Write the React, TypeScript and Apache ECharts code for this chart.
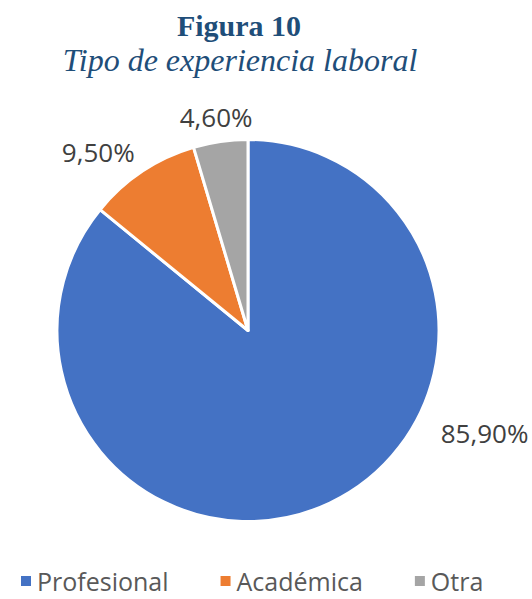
import React, { useEffect, useRef } from "react";
import * as echarts from "echarts";

const categories = ["Profesional", "Académica", "Otra"];
const values = [85.9, 9.5, 4.6];
const valueLabels = ["85,90%", "9,50%", "4,60%"];
const colors = ["#4472C4", "#ED7D31", "#A5A5A5"];

// label placement (angle in degrees, math convention; distance from centre in px)
const labelAngles = [-23.5, 130, 98.5];
const labelDistances = [258, 233, 216];

const CX = 248;
const CY = 330.5;
const R = 191;

export default function App() {
  const ref = useRef<HTMLDivElement>(null);
  useEffect(() => {
    if (!ref.current) return;
    const chart = echarts.init(ref.current, null, { renderer: "svg" });
    chart.setOption({
      animation: false,
      backgroundColor: "#ffffff",
      title: [
        {
          text: "Figura 10",
          left: 234,
          top: 5,
          textAlign: "center",
          textStyle: {
            fontFamily: "Liberation Serif",
            fontWeight: "bold",
            fontSize: 30,
            color: "#1F4E79",
          },
        },
        {
          text: "Tipo de experiencia laboral",
          left: 235,
          top: 39,
          textAlign: "center",
          textStyle: {
            fontFamily: "Liberation Serif",
            fontStyle: "italic",
            fontWeight: "normal",
            fontSize: 32,
            color: "#1F4E79",
          },
        },
      ],
      legend: {
        data: categories,
        left: 14,
        top: 563,
        icon: "rect",
        itemWidth: 12,
        itemHeight: 12,
        itemGap: 50,
        textStyle: {
          fontFamily: "Open Sans",
          fontSize: 25,
          lineHeight: 26,
          color: "#595959",
        },
      },
      series: [
        {
          type: "pie",
          center: [CX, CY],
          radius: R,
          startAngle: 90,
          clockwise: true,
          avoidLabelOverlap: false,
          itemStyle: { borderColor: "#ffffff", borderWidth: 3 },
          label: {
            show: true,
            position: "outside",
            formatter: (p: any) => valueLabels[p.dataIndex],
            fontFamily: "Open Sans",
            fontSize: 26,
            color: "#404040",
          },
          labelLine: { show: false },
          labelLayout: (p: any) => {
            const i = p.dataIndex;
            const a = (labelAngles[i] * Math.PI) / 180;
            return {
              x: CX + Math.cos(a) * labelDistances[i],
              y: CY - Math.sin(a) * labelDistances[i],
              align: "center",
              verticalAlign: "middle",
            };
          },
          data: categories.map((c, i) => ({
            name: c,
            value: values[i],
            itemStyle: { color: colors[i] },
          })),
        },
      ],
    });
    return () => chart.dispose();
  }, []);
  return (
    <div
      ref={ref}
      style={{ position: "absolute", left: 0, top: 0, width: 532, height: 599 }}
    />
  );
}
